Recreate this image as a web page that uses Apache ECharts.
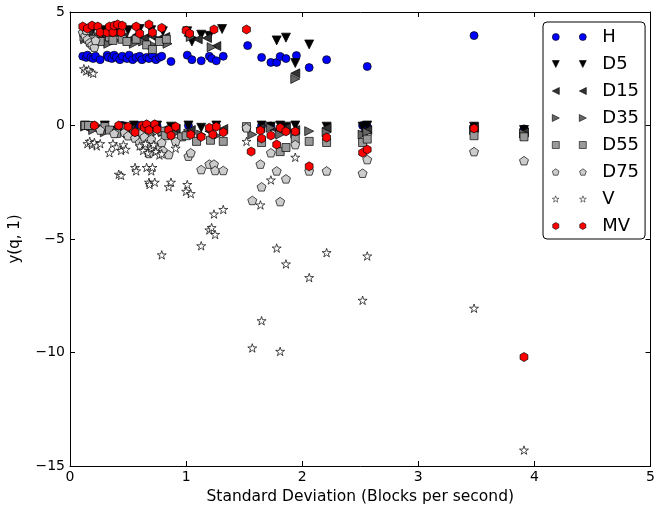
<!DOCTYPE html>
<html>
<head>
<meta charset="utf-8">
<script src="https://cdn.jsdelivr.net/npm/echarts@6/dist/echarts.min.js"></script>
<style>html,body{margin:0;padding:0;background:#fff}#c{width:658px;height:510px}</style>
</head>
<body>
<div id="c"></div>
<script>
// ---- data (x = standard deviation, y = y(q,1)) ----
const seriesNames = ['H','D5','D15','D35','D55','D75','V','MV'];
const xTicks = [0,1,2,3,4,5];
const yTicks = [-15,-10,-5,0,5];

const H = [[0.11,3.05],[0.14,3.0],[0.15,3.1],[0.18,3.0],[0.20,2.95],[0.22,3.05],[0.26,2.9],[0.32,3.1],[0.33,3.0],[0.36,2.95],[0.38,3.1],[0.40,3.0],[0.43,2.9],[0.45,3.05],[0.49,2.95],[0.51,3.1],[0.54,2.9],[0.57,3.0],[0.60,3.05],[0.62,2.9],[0.66,3.0],[0.68,2.95],[0.71,3.1],[0.74,2.9],[0.77,3.0],[0.79,3.05],[0.87,2.82],[1.01,3.1],[1.05,2.9],[1.13,2.85],[1.20,3.05],[1.22,2.95],[1.26,2.85],[1.32,3.05],[1.53,3.52],[1.65,3.0],[1.73,2.78],[1.78,2.78],[1.81,3.04],[1.86,2.95],[1.95,3.08],[2.06,2.55],[2.21,2.9],[2.56,2.6],[3.48,3.96],
  [0.13,0.0],[0.20,-0.02],[0.45,0.0],[0.60,0.0],[0.75,-0.02],[1.02,0.0],[1.65,0.0],[1.73,-0.02],[2.52,0.0],[2.56,-0.05],[3.48,-0.05],[3.91,-0.15]];
const D5 = [[0.13,4.2],[0.20,4.25],[0.30,4.2],[0.40,4.3],[0.50,4.2],[0.60,4.25],[0.70,4.2],[0.80,4.15],[1.01,4.15],[1.05,3.7],[1.13,4.0],[1.20,3.95],[1.31,4.25],[1.78,3.75],[1.86,3.87],[1.94,2.75],[2.06,3.57],
  [0.13,0.0],[0.19,-0.05],[0.30,0.0],[0.45,-0.05],[0.55,0.0],[0.65,-0.05],[0.75,0.0],[0.87,-0.05],[1.02,0.0],[1.13,-0.1],[1.26,0.0],[1.65,0.0],[1.73,-0.05],[1.81,0.0],[1.86,-0.05],[1.94,0.0],[2.21,-0.05],[2.52,-0.05],[2.56,0.0],[3.48,-0.05],[3.91,-0.2]];
const D15 = [[0.12,4.0],[0.16,4.1],[0.22,3.9],[0.28,4.0],[0.34,3.85],[0.40,4.05],[0.46,3.9],[0.52,3.8],[0.58,4.0],[0.64,3.85],[0.70,3.95],[0.76,3.8],[0.82,3.9],[1.02,3.95],[1.10,3.8],[1.18,3.85],[1.26,3.5],[1.94,2.3],
  [0.14,-0.1],[0.22,-0.15],[0.35,-0.2],[0.42,-0.1],[0.52,-0.15],[0.62,-0.2],[0.70,-0.1],[0.80,-0.2],[0.91,-0.15],[1.04,-0.2],[1.20,-0.25],[1.32,-0.15],[1.64,-0.1],[1.78,-0.2],[1.86,-0.1],[1.94,-0.2],[2.21,-0.1],[2.52,-0.3],[2.56,-0.2],[3.48,-0.1],[3.91,-0.3]];
const D35 = [[0.13,3.8],[0.18,3.7],[0.25,3.9],[0.33,3.6],[0.39,3.75],[0.47,3.85],[0.55,3.6],[0.63,3.7],[0.71,3.55],[0.78,3.75],[0.84,3.6],[1.04,3.9],[1.22,3.45],[1.94,2.05],
  [0.13,-0.05],[0.20,-0.2],[0.30,-0.3],[0.40,-0.25],[0.50,-0.35],[0.60,-0.3],[0.70,-0.4],[0.80,-0.3],[0.90,-0.35],[1.02,-0.35],[1.13,-0.4],[1.26,-0.45],[1.57,-0.4],[1.73,-0.1],[1.81,-0.4],[1.94,-0.35],[2.06,-0.25],[2.21,-0.3],[2.52,-0.4],[2.56,-0.3],[3.48,-0.2],[3.91,-0.35]];
const D55 = [[0.12,3.9],[0.20,3.8],[0.26,3.7],[0.34,3.9],[0.37,3.75],[0.45,3.8],[0.49,3.7],[0.57,3.8],[0.66,3.55],[0.71,3.35],[0.77,3.7],[0.83,3.8],
  [0.13,0.0],[0.16,0.0],[0.30,-0.05],[0.34,-0.2],[0.40,-0.35],[0.48,-0.1],[0.55,-0.3],[0.62,-0.15],[0.68,-0.4],[0.79,-0.25],[0.82,-0.45],[0.96,-0.5],[1.00,-0.45],[1.09,-0.7],[1.21,-0.65],[1.32,-0.7],[1.52,-0.05],[1.65,-0.75],[1.81,-1.15],[1.86,-0.97],[1.94,-0.6],[2.06,-0.7],[2.21,-0.75],[2.52,-0.75],[2.56,-0.6],[3.48,-0.45],[3.91,-0.5]];
const D75 = [[0.11,4.1],[0.13,3.95],[0.15,3.8],[0.17,3.65],[0.19,3.55],[0.21,3.45],[0.14,4.2],[0.22,3.75],
  [0.26,-0.2],[0.38,-0.35],[0.47,-0.3],[0.50,-0.45],[0.56,-0.55],[0.60,-0.75],[0.62,-0.3],[0.64,-0.5],[0.66,-1.0],[0.68,-1.23],[0.70,-0.6],[0.73,-0.9],[0.76,-1.05],[0.79,-0.75],[0.80,-1.1],[0.85,-1.28],[0.91,-0.7],[1.02,-1.35],[1.04,-1.2],[1.13,-1.94],[1.20,-1.7],[1.24,-1.7],[1.25,-1.98],[1.32,-1.98],[1.52,-0.1],[1.57,-3.3],[1.64,-1.7],[1.65,-2.7],[1.73,-1.2],[1.78,-2.0],[1.81,-3.35],[1.86,-2.35],[1.94,-0.84],[2.06,-2.0],[2.21,-2.0],[2.52,-2.1],[2.56,-1.5],[3.48,-1.15],[3.91,-1.55]];
const V = [[0.12,2.5],[0.14,2.4],[0.16,2.45],[0.18,2.35],[0.20,2.3],
  [0.15,-0.8],[0.17,-0.7],[0.19,-0.85],[0.21,-0.75],[0.23,-0.9],[0.26,-0.8],[0.34,-1.2],[0.37,-0.8],[0.40,-0.95],[0.44,-1.1],[0.46,-0.85],[0.48,-1.05],[0.42,-2.15],[0.44,-2.2],[0.56,-1.85],[0.57,-2.0],[0.60,-0.9],[0.63,-1.1],[0.65,-0.8],[0.67,-1.2],[0.70,-1.0],[0.72,-0.85],[0.74,-1.15],[0.66,-1.85],[0.70,-2.0],[0.71,-1.85],[0.68,-2.5],[0.685,-2.6],[0.73,-2.5],[0.77,-1.3],[0.79,-1.25],[0.79,-5.7],[0.85,-2.7],[0.87,-2.5],[0.91,-1.0],[1.01,-2.6],[1.00,-2.9],[1.04,-3.0],[1.13,-5.3],[1.20,-4.6],[1.22,-4.5],[1.25,-4.8],[1.24,-3.9],[1.32,-3.7],[1.52,-0.7],[1.57,-9.8],[1.64,-3.5],[1.65,-8.6],[1.73,-2.4],[1.78,-5.4],[1.81,-9.95],[1.86,-6.1],[1.94,-1.4],[2.06,-6.7],[2.21,-5.6],[2.52,-7.7],[2.56,-5.75],[3.48,-8.05],[3.91,-14.3]];
const MV = [[0.11,4.36],[0.15,4.27],[0.19,4.4],[0.24,4.36],[0.26,4.1],[0.32,4.1],[0.34,4.36],[0.37,4.1],[0.38,4.4],[0.41,4.45],[0.44,4.1],[0.45,4.4],[0.57,4.36],[0.60,4.05],[0.68,4.45],[0.71,4.1],[0.79,4.3],[1.00,4.18],[1.03,4.05],[1.24,4.23],[1.52,4.23],
  [0.21,0.0],[0.42,0.0],[0.50,-0.05],[0.56,-0.3],[0.62,0.0],[0.64,-0.1],[0.66,0.05],[0.68,-0.2],[0.73,0.05],[0.75,-0.17],[0.85,-0.2],[0.87,-0.44],[0.91,-0.05],[1.04,-0.4],[1.13,-0.5],[1.20,-0.1],[1.26,-0.05],[1.23,-0.4],[1.32,-0.3],[1.56,-1.15],[1.64,-0.22],[1.65,-0.57],[1.73,-0.44],[1.78,-0.84],[1.81,-0.1],[1.86,-0.26],[1.94,-0.26],[2.06,-1.8],[2.21,-0.53],[2.52,-1.2],[2.56,-1.06],[3.48,-0.13],[3.91,-10.2]];

const seriesData = {H, D5, D15, D35, D55, D75, V, MV};

// ---- marker shapes ----
function regular(n, startDeg){const p=[];for(let k=0;k<n;k++){const a=(startDeg+360*k/n)*Math.PI/180;p.push([Math.cos(a),Math.sin(a)]);}return p;}
function starPts(){const p=[];for(let k=0;k<10;k++){const r=k%2?0.382:1;const a=(-90+36*k)*Math.PI/180;p.push([r*Math.cos(a),r*Math.sin(a)]);}return p;}
const unit = {
  down:[[-1,-1],[1,-1],[0,1]],
  left:[[-1,0],[1,-1],[1,1]],
  right:[[-1,-1],[1,0],[-1,1]],
  square:[[-1,-1],[1,-1],[1,1],[-1,1]],
  pent:regular(5,-90),
  star:starPts(),
  hex:regular(6,-90)
};
function shapePath(kind, ox, oy, s){
  const h=s/2;
  if(kind==='circle'){
    return `M${ox},${oy+h} A${h},${h} 0 1,0 ${ox+s},${oy+h} A${h},${h} 0 1,0 ${ox},${oy+h} Z`;
  }
  const pts=unit[kind];
  return pts.map((p,i)=>(i?'L':'M')+(ox+(p[0]+1)*h).toFixed(3)+','+(oy+(p[1]+1)*h).toFixed(3)).join(' ')+' Z';
}
const style = {
  H:  {kind:'circle', color:'#0000ff', size:8},
  D5: {kind:'down',   color:'#000000', size:9},
  D15:{kind:'left',   color:'#333333', size:9},
  D35:{kind:'right',  color:'#666666', size:9},
  D55:{kind:'square', color:'#999999', size:8},
  D75:{kind:'pent',   color:'#cccccc', size:9},
  V:  {kind:'star',   color:'#ffffff', size:9},
  MV: {kind:'hex',    color:'#ff0000', size:9}
};
const minus = v => String(v).replace('-', '\u2212');

const series = seriesNames.map(n => ({
  name: n,
  type: 'scatter',
  data: seriesData[n],
  symbol: 'path://' + shapePath(style[n].kind, 0, 0, 20),
  symbolKeepAspect: true,
  symbolSize: style[n].size,
  itemStyle: {color: style[n].color, borderColor: '#000', borderWidth: 0.7, opacity: 1},
  emphasis: {disabled: true},
  animation: false
}));

const legendData = seriesNames.map(n => ({
  name: n,
  icon: 'path://' + shapePath(style[n].kind, 0, 0, 7) + ' ' + shapePath(style[n].kind, 27, 0, 7),
  itemStyle: {color: style[n].color, borderColor: '#000', borderWidth: n === 'V' ? 0.5 : 0.6}
}));

const axisFont = {fontFamily: 'DejaVu Sans', fontSize: 14, color: '#000'};
const baseAxis = {
  axisLine: {show: true, onZero: false, lineStyle: {color: '#000', width: 1}},
  axisTick: {show: true, inside: true, length: 5, lineStyle: {color: '#000'}},
  splitLine: {show: false}
};

const chart = echarts.init(document.getElementById('c'), null, {renderer: 'canvas'});
chart.setOption({
  animation: false,
  backgroundColor: '#fff',
  grid: {left: 69, right: 4, top: 12, bottom: 44},
  xAxis: [
    Object.assign({}, baseAxis, {type: 'value', position: 'bottom', min: xTicks[0], max: xTicks[xTicks.length-1], interval: 1,
      name: 'Standard Deviation (Blocks per second)', nameLocation: 'middle', nameGap: 22,
      nameTextStyle: {fontFamily: 'DejaVu Sans', fontSize: 15.5, color: '#000'},
      axisLabel: Object.assign({margin: 4, formatter: minus, showMaxLabel: true, showMinLabel: true}, axisFont)}),
    Object.assign({}, baseAxis, {type: 'value', position: 'top', min: xTicks[0], max: xTicks[xTicks.length-1], interval: 1, axisLabel: {show: false}})
  ],
  yAxis: [
    Object.assign({}, baseAxis, {type: 'value', position: 'left', min: yTicks[0], max: yTicks[yTicks.length-1], interval: 5,
      name: 'y(q, 1)', nameLocation: 'middle', nameGap: 47, nameRotate: 90,
      nameTextStyle: {fontFamily: 'DejaVu Sans', fontSize: 15, color: '#000'},
      axisLabel: Object.assign({margin: 5, formatter: minus, showMaxLabel: true, showMinLabel: true}, axisFont)}),
    Object.assign({}, baseAxis, {type: 'value', position: 'right', min: yTicks[0], max: yTicks[yTicks.length-1], interval: 5, axisLabel: {show: false}})
  ],
  legend: {
    orient: 'vertical', left: 543, top: 22,
    data: legendData,
    itemWidth: 34, itemHeight: 7, itemGap: 9,
    padding: [6, 6, 4, 9],
    borderColor: '#000', borderWidth: 1, borderRadius: 4,
    backgroundColor: '#fff',
    textStyle: {fontFamily: 'DejaVu Sans', fontSize: 18, lineHeight: 18, color: '#000', padding: [0, 0, 0, 11]},
    selectedMode: false
  },
  series: series
});
</script>
</body>
</html>
